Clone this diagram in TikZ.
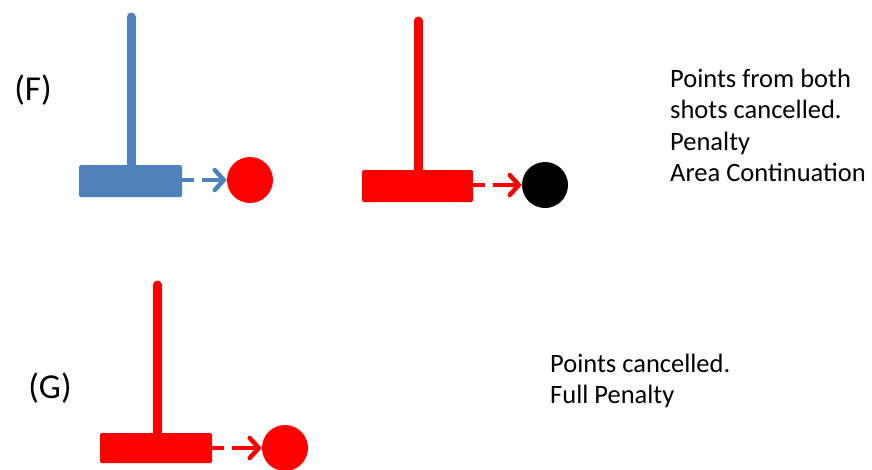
\documentclass[tikz,border=0pt]{standalone}
\usepackage{fontspec}
\setmainfont{Carlito}
\usetikzlibrary{arrows.meta}
\definecolor{malletblue}{RGB}{79,129,189}
\definecolor{malletred}{RGB}{255,0,0}
\tikzset{
  x=1pt, y=-1pt,
  mallethead/.style={rectangle, rounded corners=1.5pt, fill=#1, draw=none,
    minimum width=108pt, minimum height=32pt, inner sep=0pt},
  shaft/.style={draw=#1, line width=9pt, line cap=round},
  ball/.style={circle, fill=#1, draw=none, minimum size=46pt, inner sep=0pt},
  hit/.style={draw=#1, line width=4.5pt, dash pattern=on 12pt off 8pt on 40pt,
    -{Straight Barb[length=9pt, width=20pt, line width=4.5pt, line cap=round]}},
  caselabel/.style={font=\fontsize{35}{40}\selectfont, inner sep=0pt},
  note/.style={font=\fontsize{26.5}{31.5}\selectfont, align=left, inner sep=0pt,
    anchor=base west}
}
\begin{document}
\begin{tikzpicture}
\useasboundingbox (0,0) rectangle (872,469);

% case F, first shot
\node[caselabel] (lf) at (33,90) {(F)};
\node[mallethead=malletblue, minimum width=103pt] (h1) at (130.5,181) {};
\coordinate (t1) at (131,17);
\draw[shaft=malletblue] (h1.north -| t1) -- (t1);
\node[ball=malletred] (b1) at (250,180) {};
\draw[hit=malletblue] (h1.east |- b1) -- (b1.west);

% case F, second shot
\node[mallethead=malletred, minimum width=111pt] (h2) at (417.5,186) {};
\coordinate (t2) at (418,21);
\draw[shaft=malletred] (h2.north -| t2) -- (t2);
\node[ball=black] (b2) at (545,185) {};
\draw[hit=malletred] (h2.east |- b2) -- (b2.west);

% the base anchor of a multi-line note sits on its last line
\node[note] (nf) at (670,181.5) {Points from both\\shots cancelled.\\Penalty\\Area Continuation};

% case G
\node[caselabel] (lg) at (50,388) {(G)};
\node[mallethead=malletred, minimum width=112pt, minimum height=30pt] (h3) at (156,448) {};
\coordinate (t3) at (157.5,285);
\draw[shaft=malletred] (h3.north -| t3) -- (t3);
\node[ball=malletred] (b3) at (285,448) {};
\draw[hit=malletred] (h3.east |- b3) -- (b3.west);

\node[note] (ng) at (550,403.5) {Points cancelled.\\Full Penalty};
\end{tikzpicture}
\end{document}
